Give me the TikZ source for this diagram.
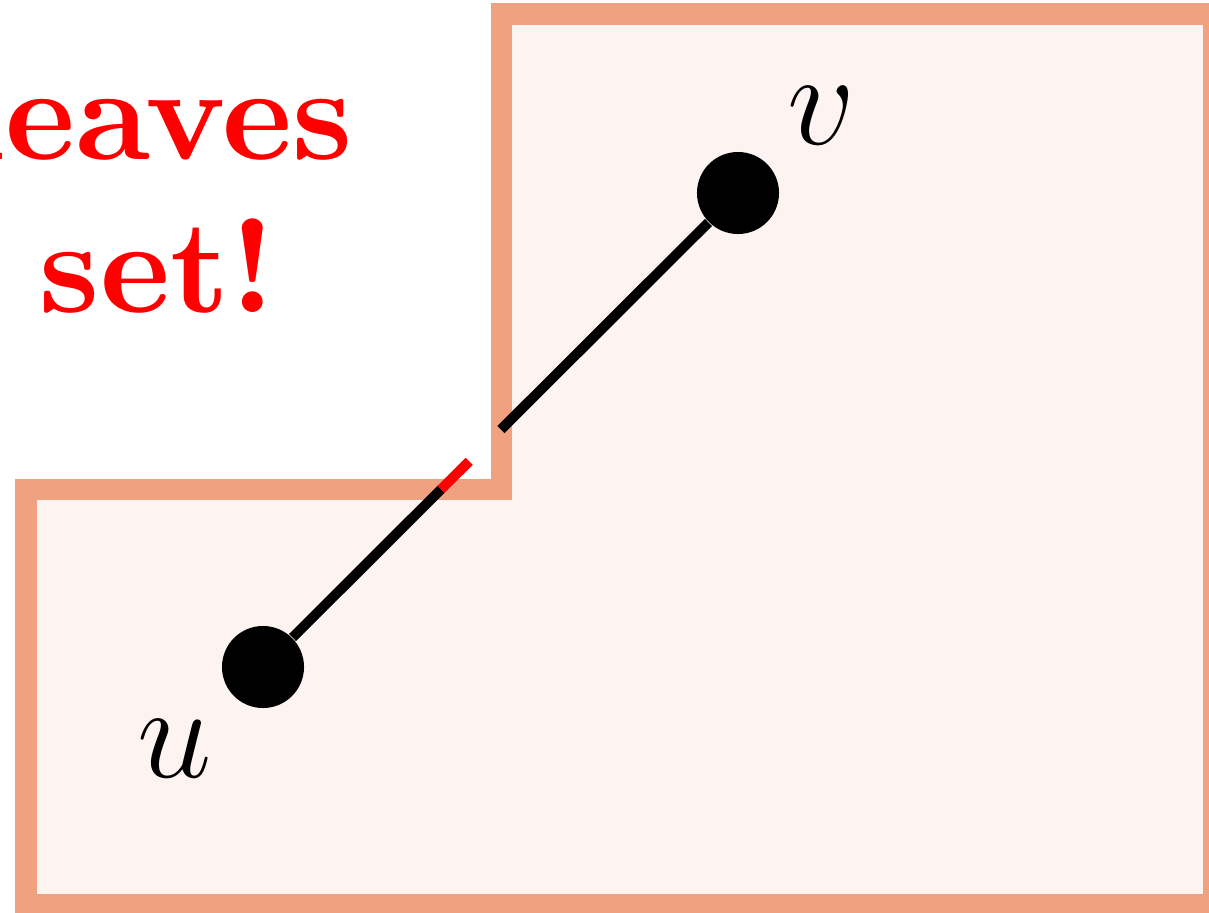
\RequirePackage{fix-cm}
\documentclass[tikz,border=0pt]{standalone}
\usetikzlibrary{calc}
\definecolor{setline}{RGB}{240,162,128}
\definecolor{setfill}{RGB}{253,244,241}
\font\msgfont=cmbx10 at 37.8pt
\newcommand{\msgstyle}{\msgfont\setlength{\baselineskip}{43.5pt}}
\tikzset{
    setborder/.style={draw=setline, fill=setfill, line width=0.21cm},
    vertex/.style={circle, fill=black, minimum size=0.82cm, inner sep=0pt},
    vlabel/.style={anchor=base, inner sep=0pt, font=\fontsize{38}{44}\selectfont},
    edge/.style={line width=0.1cm}
}
\begin{document}
\begin{tikzpicture}[x=0.01cm,y=-0.01cm]
\useasboundingbox (0,0) rectangle (1209,912);
\clip (0,0) rectangle (1209,912);

% the set
\draw[setborder] (26,904) -- (26,489.5) -- (501,489.5) -- (501,14) -- (1213,14) -- (1213,904) -- cycle;

% the two points
\node[vertex] (u) at (263,667) {};
\node[vertex] (v) at (738,193) {};
\node[vlabel] (ulabel) at (175,777) {$u$};
\node[vlabel] (vlabel) at (822,144) {$v$};

% where the segment crosses the border
\coordinate (out) at ($(u)!0.375!(v)$);
\coordinate (gapstart) at ($(u)!0.434!(v)$);
\coordinate (gapend) at ($(u)!0.501!(v)$);

\draw[edge] (u) -- (out);
\draw[edge, red] (out) -- (gapstart);
\draw[edge] (gapend) -- (v);

\node[red, align=center, inner sep=0pt, font=\msgstyle] (msg) at (158,190) {leaves\\set!};
\end{tikzpicture}
\end{document}
